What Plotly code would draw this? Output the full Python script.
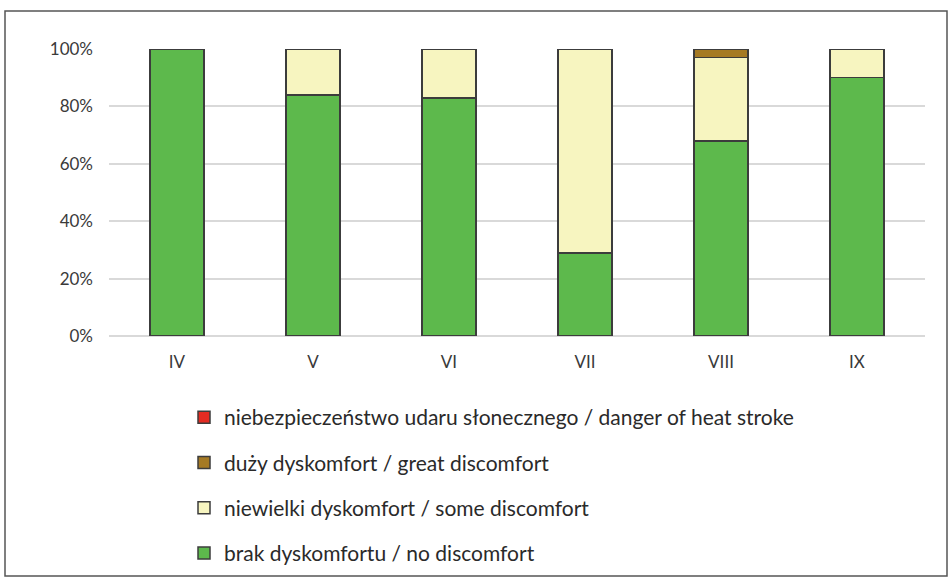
import plotly.graph_objects as go

months = ["IV", "V", "VI", "VII", "VIII", "IX"]
no_discomfort = [100, 84, 83, 29, 68, 90]
some_discomfort = [0, 16, 17, 71, 29, 10]
great_discomfort = [0, 0, 0, 0, 3, 0]
heat_stroke = [0, 0, 0, 0, 0, 0]

series = [
    ("brak dyskomfortu / no discomfort", no_discomfort, "#5DB94C"),
    ("niewielki dyskomfort / some discomfort", some_discomfort, "#F7F5C0"),
    ("duży dyskomfort / great discomfort", great_discomfort, "#A57A24"),
    ("niebezpieczeństwo udaru słonecznego / danger of heat stroke", heat_stroke, "#E32B22"),
]

FONT = "Lato, 'Open Sans', sans-serif"
fig = go.Figure()
for i, (name, vals, col) in enumerate(series):
    fig.add_trace(go.Bar(
        x=months, y=vals, name=name, legendgroup=f"g{i}",
        legendrank=100 - i,
        marker=dict(color=col, line=dict(color="#3c3c3c", width=1.5)),
        width=0.4,
    ))

L, R, T, B = 109, 27, 49, 245
W, H = 952, 581
pw, ph = W - L - R, H - T - B

def px(x):
    return (x - L) / pw

def py(y):
    return (H - B - y) / ph

fig.add_shape(type="rect", xref="paper", yref="paper",
              x0=px(5), x1=px(947), y0=py(576), y1=py(11),
              line=dict(color="#555555", width=1.5), fillcolor="rgba(0,0,0,0)")

fig.update_layout(
    width=W, height=H,
    margin=dict(l=L, r=R, t=T, b=B, autoexpand=False),
    barmode="stack",
    plot_bgcolor="white", paper_bgcolor="white",
    font=dict(family=FONT, size=17, color="#3a3a3a"),
    xaxis=dict(showgrid=False, showline=False, ticks="", ticklabelstandoff=14,
               tickfont=dict(size=17, color="#3a3a3a")),
    yaxis=dict(range=[0, 100], tickvals=[0, 20, 40, 60, 80, 100],
               ticktext=["0%", "20%", "40%", "60%", "80%", "100%"],
               gridcolor="#d9d9d9", gridwidth=1.5, zeroline=True, zerolinecolor="#d9d9d9",
               zerolinewidth=1.5, showline=False, ticks="", ticklabelstandoff=15,
               tickfont=dict(size=17, color="#3a3a3a")),
    legend=dict(orientation="v", x=px(184), y=py(397), xanchor="left", yanchor="top",
                traceorder="grouped", tracegroupgap=15, bgcolor="rgba(0,0,0,0)",
                font=dict(family=FONT, size=21, color="#2a2a2a")),
    showlegend=True,
)

fig.write_html("out.html")
